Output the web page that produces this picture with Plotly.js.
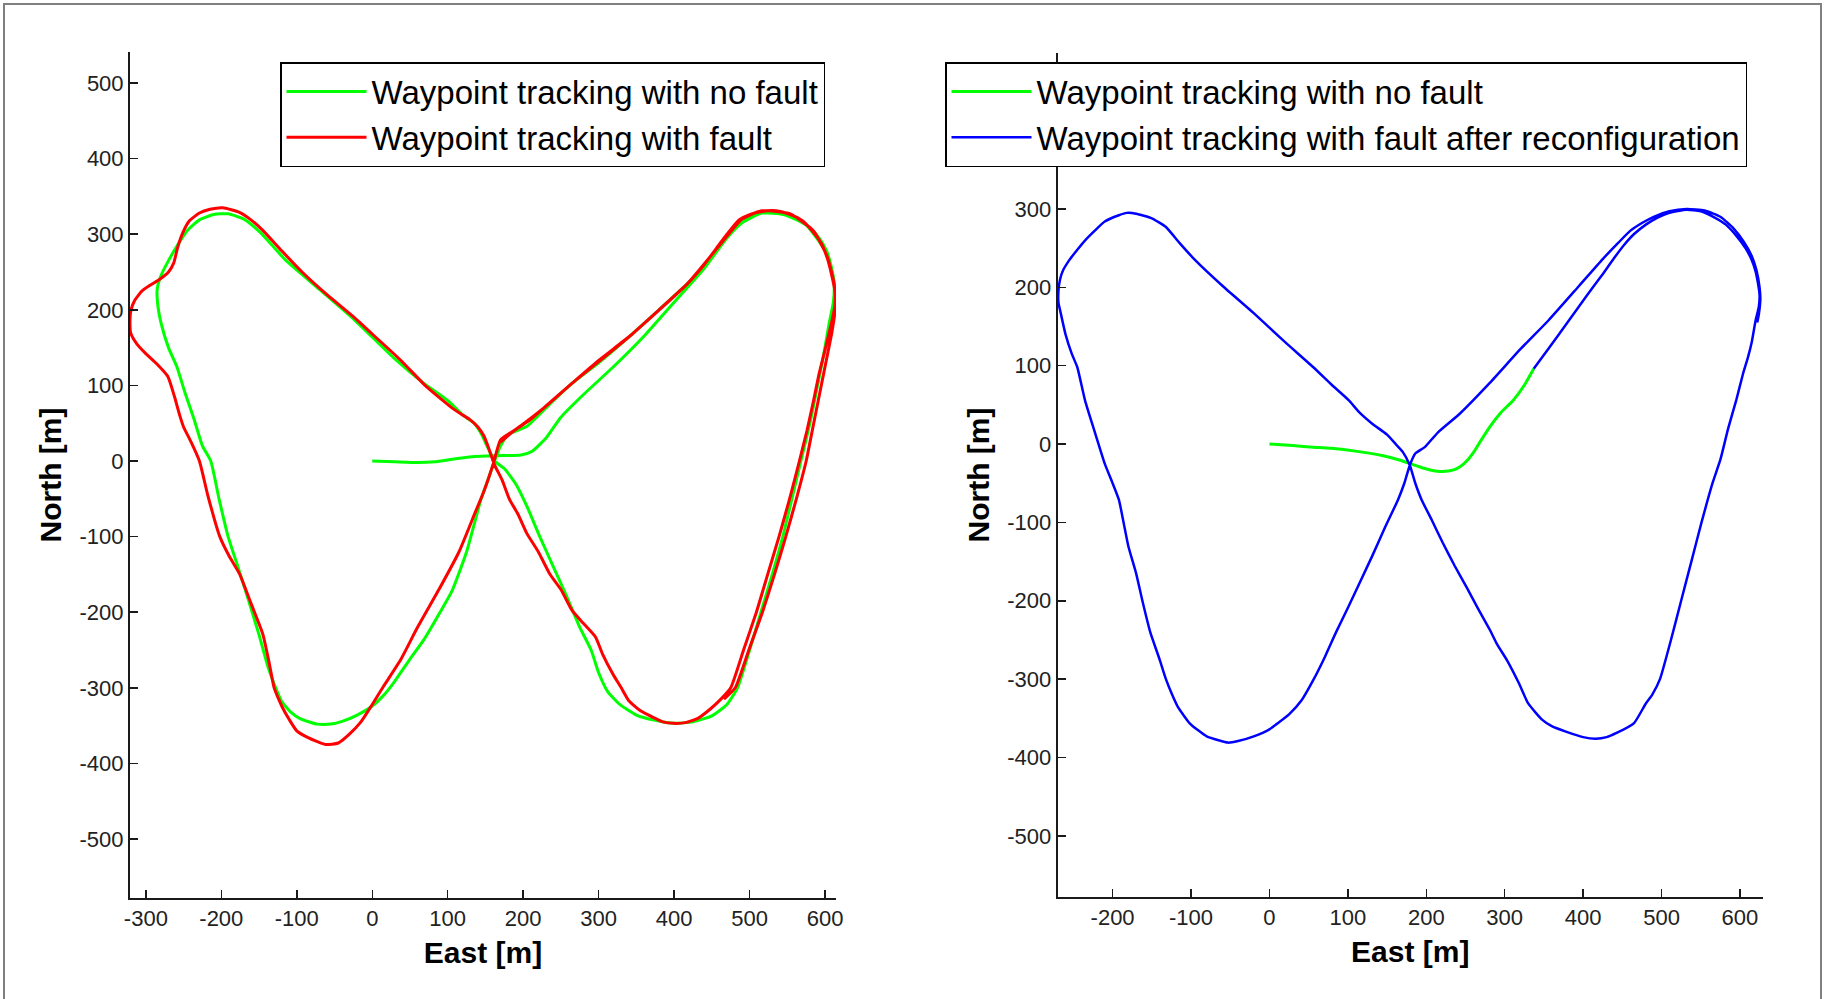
<!DOCTYPE html>
<html>
<head>
<meta charset="utf-8">
<script src="https://cdn.plot.ly/plotly-3.0.1.min.js"></script>
<style>
  html, body { margin: 0; padding: 0; background: #ffffff; }
  #chart { width: 1825px; height: 999px; }
</style>
</head>
<body>
<div id="chart"></div>
<script>
// ---------------- Data ----------------
// Left panel: waypoint tracking with no fault (green)
const noFaultLeftEast = [0, 30, 60, 83, 110, 136, 166, 197, 212, 230, 250, 280, 320, 360, 400, 440, 470, 490, 516, 540, 560, 578, 592, 602, 608, 612, 611, 605, 598, 590, 580, 568, 556, 544, 530, 515, 500, 484, 470, 450, 425, 400, 375, 350, 328, 312, 300, 290, 275, 258, 240, 222, 205, 190, 175, 162, 152, 145, 135, 121, 100, 68, 30, -24, -70, -115, -149, -170, -191, -210, -229, -245, -259, -270, -280, -285, -284, -280, -270, -259, -248, -236, -225, -214, -203, -191, -178, -164, -150, -138, -128, -120, -108, -95, -73, -55, -39, -20, 0, 15, 30, 50, 68, 87, 106, 125, 144, 155, 162, 170, 180, 205, 235, 265, 300, 341, 380, 418, 445, 464, 486, 516, 545, 575, 598];
const noFaultLeftNorth = [0, -1, -2, -1, 3, 6, 7, 8, 13, 30, 58, 88, 125, 165, 210, 255, 295, 315, 328, 327, 322, 310, 295, 278, 258, 235, 210, 180, 140, 100, 50, 0, -50, -100, -150, -200, -250, -300, -322, -337, -345, -347, -343, -336, -322, -305, -280, -250, -220, -180, -140, -100, -60, -30, -10, 0, 20, 35, 50, 60, 80, 103, 135, 187, 227, 266, 303, 320, 327, 326, 319, 305, 284, 265, 245, 227, 205, 183, 150, 125, 90, 55, 20, 0, -50, -100, -140, -184, -230, -273, -300, -318, -332, -341, -348, -348, -344, -336, -324, -310, -291, -262, -237, -205, -171, -120, -51, -20, 0, 20, 35, 46, 75, 103, 130, 165, 200, 235, 265, 288, 315, 328, 326, 312, 282];

// Left panel: waypoint tracking with fault (red)
const faultLeftEast = [170, 189, 210, 227, 265, 300, 341, 380, 418, 440, 455, 470, 486, 500, 516, 535, 554, 570, 585, 595, 603, 609, 613, 613, 608, 600, 592, 585, 576, 566, 553, 539, 524, 509, 492, 475, 462, 448, 432, 415, 400, 385, 372, 355, 340, 330, 319, 305, 296, 280, 265, 250, 235, 220, 205, 193, 182, 172, 162, 155, 148, 140, 129, 118, 106, 90, 71, 37, 0, -24, -60, -92, -120, -146, -162, -176, -198, -215, -229, -242, -251, -258, -263, -270, -282, -295, -305, -315, -320, -321, -320, -312, -301, -285, -271, -262, -255, -250, -240, -229, -218, -202, -190, -176, -160, -145, -137, -130, -124, -119, -110, -100, -85, -62, -45, -31, -15, 0, 15, 37, 60, 90, 115, 136, 148, 160, 170, 189, 227, 265, 341, 418, 464, 490, 516, 554, 585, 603, 612, 614, 609, 601, 593, 584, 575, 562, 548, 533, 517, 499, 481, 466];
const faultLeftNorth = [25, 41, 55, 70, 103, 133, 165, 200, 235, 260, 280, 300, 319, 326, 330, 331, 326, 318, 302, 288, 268, 245, 225, 205, 180, 147, 115, 81, 40, 0, -50, -100, -150, -200, -250, -300, -315, -328, -340, -346, -347, -345, -339, -330, -317, -300, -282, -255, -233, -215, -198, -170, -149, -120, -96, -70, -51, -25, -5, 15, 33, 45, 55, 62, 70, 83, 99, 134, 168, 190, 220, 249, 278, 306, 320, 329, 335, 333, 328, 318, 302, 282, 262, 250, 240, 232, 225, 212, 198, 180, 169, 155, 143, 128, 112, 85, 60, 45, 25, 0, -45, -100, -125, -149, -190, -229, -265, -300, -315, -326, -342, -357, -366, -375, -373, -362, -345, -322, -298, -264, -220, -167, -120, -69, -40, -5, 28, 41, 70, 103, 165, 235, 290, 320, 331, 327, 304, 270, 235, 205, 170, 130, 90, 45, 0, -50, -100, -150, -200, -250, -300, -315];

// Right panel: waypoint tracking with no fault (green, visible start segment)
const noFaultRightEast = [0, 30, 56, 85, 116, 145, 168, 191, 205, 221, 235, 243, 253, 262, 270, 281, 295, 311, 325, 337];
const noFaultRightNorth = [0, -2, -4, -6, -10, -15, -21, -29, -33, -35, -33, -29, -20, -8, 5, 22, 40, 56, 75, 96];

// Right panel: waypoint tracking with fault after reconfiguration (blue)
const reconfRightEast = [337, 356, 380, 405, 423, 440, 453, 465, 480, 495, 510, 532, 550, 566, 582, 596, 607, 615, 620, 623, 625, 624, 620, 615, 610, 604, 595, 585, 575, 565, 551, 538, 525, 512, 498, 488, 480, 465, 442, 430, 416, 400, 378, 360, 348, 330, 318, 303, 290, 281, 266, 251, 236, 221, 207, 194, 186, 179, 170, 161, 150, 131, 115, 101, 80, 56, 20, -20, -60, -95, -115, -132, -150, -170, -182, -192, -210, -222, -235, -245, -255, -263, -267, -269, -269, -267, -260, -252, -245, -235, -222, -210, -200, -192, -186, -180, -170, -162, -152, -140, -132, -124, -117, -102, -90, -80, -65, -53, -40, -20, 0, 11, 25, 41, 56, 71, 85, 101, 116, 131, 148, 164, 172, 179, 186, 198, 215, 243, 281, 320, 356, 395, 425, 445, 460, 475, 490, 510, 532, 555, 575, 592, 605, 615, 621, 625, 626, 624, 622];
const reconfRightNorth = [96, 122, 155, 190, 214, 238, 255, 268, 280, 289, 295, 299, 297, 290, 280, 265, 250, 235, 220, 205, 190, 175, 158, 130, 110, 90, 55, 20, -20, -50, -100, -150, -200, -250, -300, -320, -331, -356, -369, -374, -376, -374, -367, -360, -352, -331, -305, -276, -255, -237, -210, -182, -155, -126, -97, -71, -50, -27, -10, 0, 12, 26, 40, 56, 75, 98, 130, 167, 202, 235, 257, 277, 288, 294, 295, 292, 284, 273, 260, 248, 235, 222, 210, 196, 180, 171, 140, 115, 98, 55, 13, -25, -50, -71, -100, -130, -165, -200, -240, -275, -300, -320, -335, -356, -366, -373, -378, -381, -379, -373, -364, -356, -345, -327, -301, -271, -240, -207, -175, -143, -105, -71, -50, -27, -12, -4, 15, 39, 78, 121, 158, 202, 236, 257, 272, 282, 290, 297, 300, 298, 290, 275, 258, 240, 222, 200, 185, 165, 155];

// Tick values and labels
const eastTicksLeft = [-300, -200, -100, 0, 100, 200, 300, 400, 500, 600];
const eastTickTextLeft = ["-300", "-200", "-100", "0", "100", "200", "300", "400", "500", "600"];
const eastTicksRight = [-200, -100, 0, 100, 200, 300, 400, 500, 600];
const eastTickTextRight = ["-200", "-100", "0", "100", "200", "300", "400", "500", "600"];
const northTicksLeft = [-500, -400, -300, -200, -100, 0, 100, 200, 300, 400, 500];
const northTickTextLeft = ["-500", "-400", "-300", "-200", "-100", "0", "100", "200", "300", "400", "500"];
const northTicksRight = [-500, -400, -300, -200, -100, 0, 100, 200, 300];
const northTickTextRight = ["-500", "-400", "-300", "-200", "-100", "0", "100", "200", "300"];

const legendNames = [
  "Waypoint tracking with no fault",
  "Waypoint tracking with fault",
  "Waypoint tracking with fault after reconfiguration"
];

// ---------------- Styling ----------------
const FONT = "'Liberation Sans', Arial, Helvetica, sans-serif";
const GREEN = "#00ff00", RED = "#ff0000", BLUE = "#0000ff";
const AXC = "#1a1a1a";
const W = 1825, H = 999;
const SMOOTH = { shape: "spline", smoothing: 0.5 };

const traces = [
  { x: noFaultLeftEast, y: noFaultLeftNorth, type: "scatter", mode: "lines",
    name: legendNames[0], line: Object.assign({ color: GREEN, width: 3 }, SMOOTH), xaxis: "x", yaxis: "y", legend: "legend" },
  { x: faultLeftEast, y: faultLeftNorth, type: "scatter", mode: "lines",
    name: legendNames[1], line: Object.assign({ color: RED, width: 3 }, SMOOTH), xaxis: "x", yaxis: "y", legend: "legend" },
  { x: noFaultRightEast, y: noFaultRightNorth, type: "scatter", mode: "lines",
    name: legendNames[0], line: Object.assign({ color: GREEN, width: 3 }, SMOOTH), xaxis: "x2", yaxis: "y2", legend: "legend2" },
  { x: reconfRightEast, y: reconfRightNorth, type: "scatter", mode: "lines",
    name: legendNames[2], line: Object.assign({ color: BLUE, width: 2.5 }, SMOOTH), xaxis: "x2", yaxis: "y2", legend: "legend2" }
];

function xAxis(domain, range, vals, text) {
  return {
    domain: domain, range: range, tickvals: vals, ticktext: text,
    ticks: "inside", ticklen: 8, tickwidth: 1.5, tickcolor: AXC,
    showline: true, linecolor: AXC, linewidth: 2, mirror: false,
    showgrid: false, zeroline: false, automargin: false,
    tickfont: { family: FONT, size: 22, color: "#222222" },
    title: { text: "East [m]", standoff: 12, font: { family: FONT, size: 30, color: "#000000", weight: "bold" } }
  };
}
function yAxis(domain, range, vals, text, anchor) {
  return {
    domain: domain, range: range, tickvals: vals, ticktext: text, anchor: anchor,
    ticks: "inside", ticklen: 8, tickwidth: 1.5, tickcolor: AXC,
    showline: true, linecolor: AXC, linewidth: 2, mirror: false,
    showgrid: false, zeroline: false, automargin: false,
    tickfont: { family: FONT, size: 22, color: "#222222" },
    title: { text: "North [m]", standoff: 9, font: { family: FONT, size: 30, color: "#000000", weight: "bold" } }
  };
}

const legendStyle = {
  xanchor: "left", yanchor: "top",
  bgcolor: "#ffffff", bordercolor: "#000000", borderwidth: 1.5,
  font: { family: FONT, size: 33, color: "#000000" },
  itemwidth: 80, tracegroupgap: 0, traceorder: "normal"
};

const layout = {
  width: W, height: H,
  paper_bgcolor: "#ffffff", plot_bgcolor: "#ffffff",
  margin: { l: 0, r: 0, t: 0, b: 0, autoexpand: false },
  showlegend: true,
  xaxis: Object.assign(xAxis([130 / W, 836 / W], [-321, 614.5], eastTicksLeft, eastTickTextLeft), { anchor: "y" }),
  yaxis: yAxis([1 - 898 / H, 1 - 52 / H], [-578, 541], northTicksLeft, northTickTextLeft, "x"),
  xaxis2: Object.assign(xAxis([1057.7 / W, 1762.7 / W], [-270, 629], eastTicksRight, eastTickTextRight), { anchor: "y2" }),
  yaxis2: yAxis([1 - 897 / H, 1 - 53 / H], [-578, 499], northTicksRight, northTickTextRight, "x2"),
  legend: Object.assign({}, legendStyle, { x: 280 / W, y: 1 - 62 / H }),
  legend2: Object.assign({}, legendStyle, { x: 945 / W, y: 1 - 62 / H }),
  shapes: [
    { type: "rect", xref: "paper", yref: "paper", x0: 4 / W, x1: 1821 / W, y0: -0.02, y1: 1 - 4 / H,
      line: { color: "#808080", width: 2 }, fillcolor: "rgba(0,0,0,0)", layer: "below" }
  ]
};

Plotly.newPlot("chart", traces, layout, { staticPlot: true, displayModeBar: false });
</script>
</body>
</html>
